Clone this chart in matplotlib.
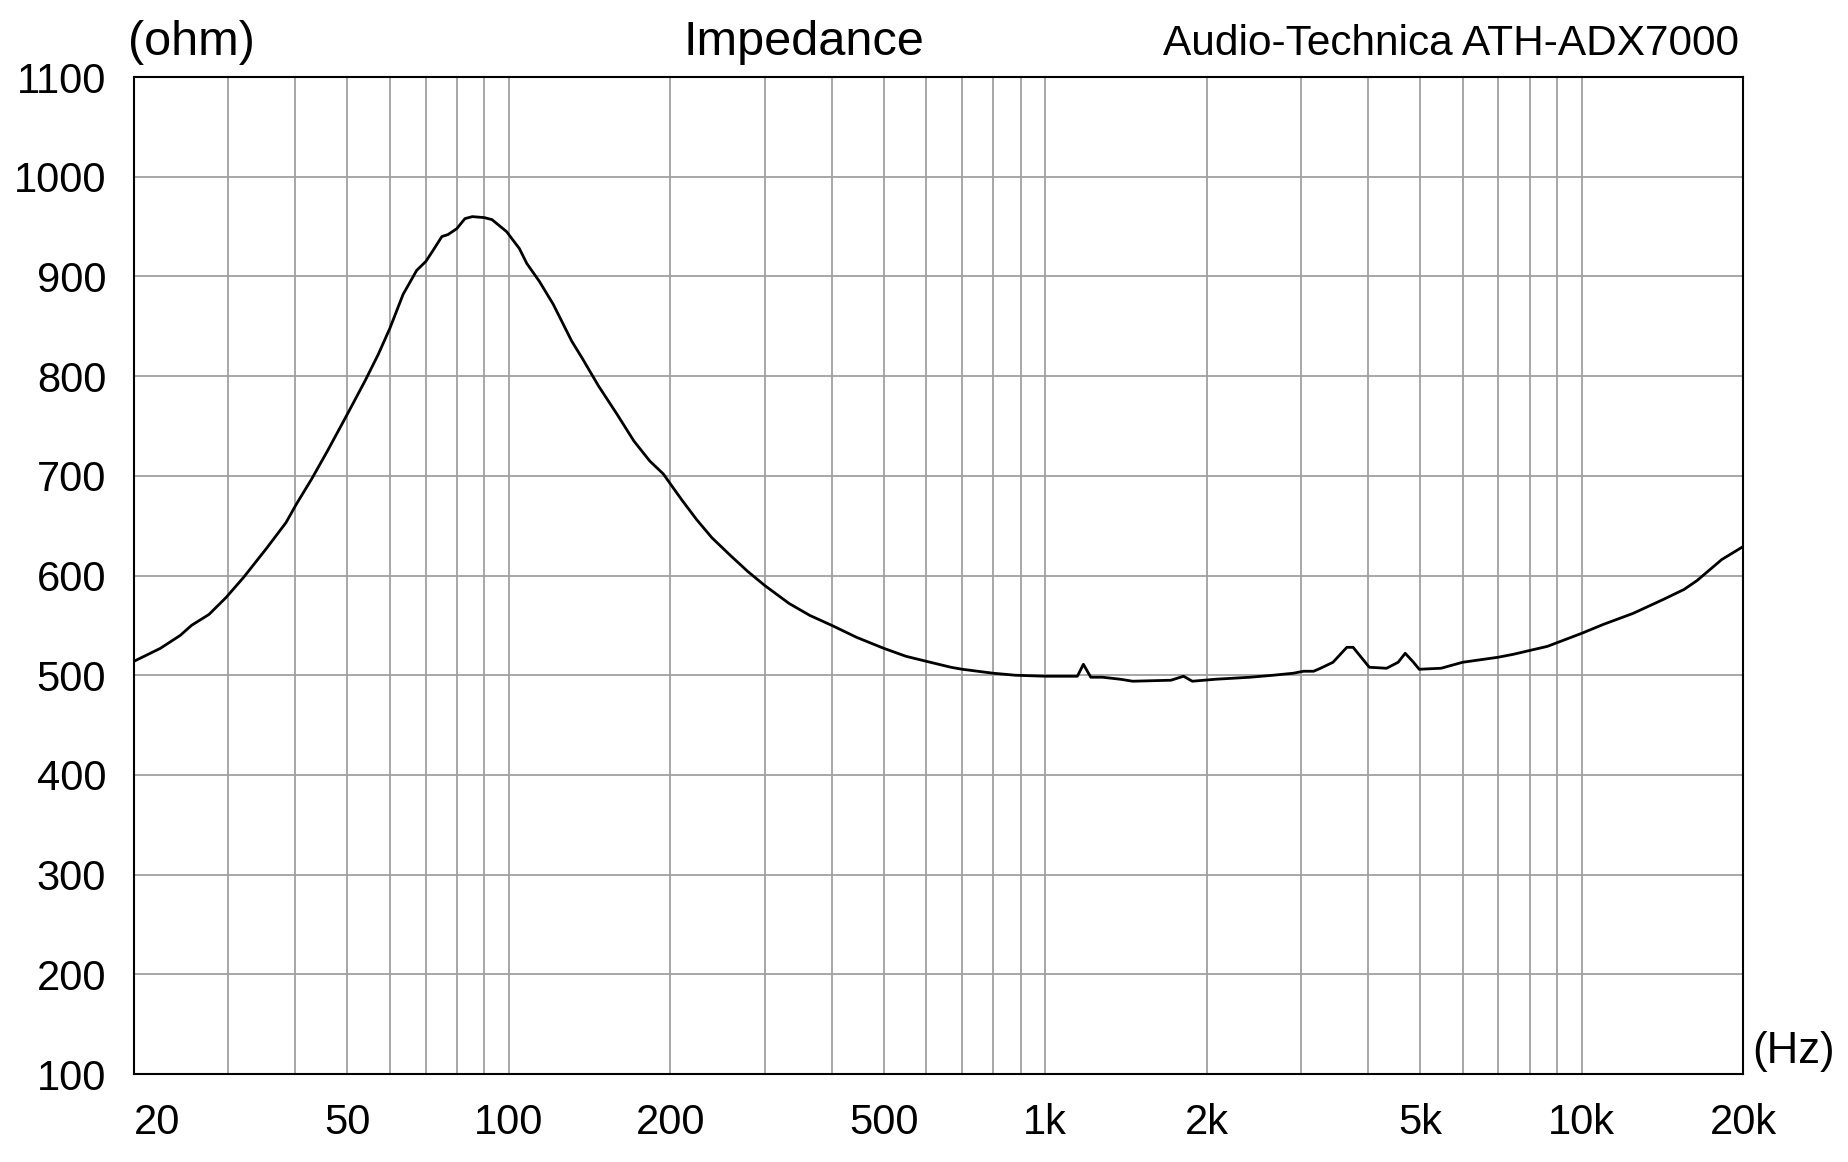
import matplotlib
matplotlib.use("Agg")
import matplotlib.pyplot as plt
from matplotlib.ticker import FixedLocator, NullFormatter

plt.rcParams['font.family'] = ['Liberation Sans', 'DejaVu Sans']

# impedance curve (Hz, ohm)
freq = [20, 22.4, 24.4, 25.6, 27.6, 29.7, 32.0, 35.3, 38.4, 40.2, 42.9, 45.9,
        50, 53.9, 57.1, 60, 63.5, 67.3, 70, 72, 75, 77, 80, 82.8, 85.5, 90,
        93, 99, 104.6, 108, 114, 121, 131, 137, 147, 159, 171, 183, 194, 200,
        210, 224, 239, 259, 279, 300, 333, 364, 400, 445, 500, 550, 600, 667,
        700, 800, 880, 1000, 1148, 1178, 1216, 1278, 1380, 1455, 1716, 1811,
        1880, 2080, 2410, 2660, 2900, 3030, 3165, 3260, 3440, 3650, 3750,
        4020, 4330, 4550, 4690, 4860, 4980, 5470, 6000, 6980, 7460, 8640,
        10000, 10980, 12470, 14200, 15520, 16420, 18250, 20000]
ohm = [514, 527, 540, 550, 561, 578, 598, 627, 653, 672, 697, 725,
       762, 795, 822, 848, 882, 906, 915, 925, 940, 942, 948, 958, 960, 959,
       957, 945, 928, 913, 895, 872, 835, 818, 790, 762, 735, 715, 702, 692,
       676, 656, 638, 620, 604, 590, 572, 560, 550, 538, 527, 519, 514, 508,
       506, 502, 500, 499, 499, 511, 498, 498, 496, 494, 495, 499,
       494, 496, 498, 500, 502, 504, 504, 507, 513, 528, 528,
       508, 507, 513, 522, 513, 506, 507, 513, 518, 521, 529,
       542, 551, 562, 576, 586, 595, 616, 629]

xticks = [20, 50, 100, 200, 500, 1000, 2000, 5000, 10000, 20000]
xlabels = ['20', '50', '100', '200', '500', '1k', '2k', '5k', '10k', '20k']
yticks = list(range(100, 1101, 100))

grid_x = [m * 10 ** d for d in range(1, 5) for m in range(1, 10)]
grid_x = [g for g in grid_x if 20 <= g <= 20000]

fig = plt.figure(figsize=(18.48, 11.62), dpi=100)
ax = fig.add_axes([0.0725, 0.0757, 0.8707, 0.858])

ax.plot(freq, ohm, color='black', lw=2.0, zorder=3)

ax.set_xscale('log')
ax.set_xlim(20, 20000)
ax.set_ylim(100, 1100)
ax.xaxis.set_major_locator(FixedLocator(xticks))
ax.set_xticklabels(xlabels)
ax.xaxis.set_minor_locator(FixedLocator([g for g in grid_x if g not in xticks]))
ax.xaxis.set_minor_formatter(NullFormatter())
ax.set_yticks(yticks)
ax.set_yticklabels([str(v) for v in yticks])

ax.grid(True, which='both', color='#a0a0a0', lw=1.3)
ax.tick_params(which='both', length=0)
ax.tick_params(axis='x', pad=21, labelsize=30)
ax.tick_params(axis='y', pad=20, labelsize=30)
ax.get_xticklabels()[0].set_horizontalalignment('left')
for s in ax.spines.values():
    s.set_linewidth(1.5)
    s.set_color('black')

fig.text(128 / 1848, 1 - 55 / 1162, '(ohm)', fontsize=35, va='baseline', ha='left')
fig.text(803.5 / 1848, 1 - 55 / 1162, 'Impedance', fontsize=35, va='baseline', ha='center')
fig.text(1739 / 1848, 1 - 55 / 1162, 'Audio-Technica ATH-ADX7000', fontsize=30.5,
         va='baseline', ha='right')
fig.text(1752 / 1848, 1 - 1052 / 1162, '(Hz)', fontsize=31.5, va='center', ha='left')

fig.savefig('out.png', dpi=100, facecolor='white')
